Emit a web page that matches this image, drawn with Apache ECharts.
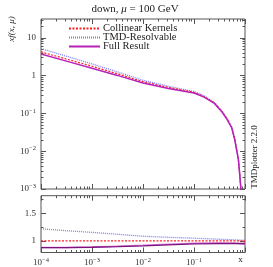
<!DOCTYPE html>
<html><head><meta charset="utf-8">
<script src="https://cdn.jsdelivr.net/npm/echarts@6/dist/echarts.min.js"></script>
<style>html,body{margin:0;padding:0;background:#fff}#c{width:273px;height:267px}</style>
</head><body><div id="c"></div>
<script>
// ---- data ----
const xMain = [1e-4, 3.16e-4, 1e-3, 3.16e-3, 1e-2, 3.16e-2, 0.1, 0.158, 0.251, 0.355, 0.447, 0.55, 0.63, 0.741, 0.794, 0.832, 0.871];
const collinear = [4.27, 2.75, 1.78, 1.12, 0.692, 0.490, 0.363, 0.282, 0.191, 0.112, 0.0708, 0.0427, 0.0209, 0.00631, 0.00224, 0.00100, 0.000316];
const tmdResolvable = [5.20, 3.26, 2.05, 1.26, 0.753, 0.524, 0.381, 0.293, 0.196, 0.115, 0.0723, 0.0435, 0.0212, 0.0064, 0.00226, 0.00101, 0.000318];
const fullResult = [3.75, 2.43, 1.58, 1.016, 0.637, 0.460, 0.347, 0.270, 0.184, 0.109, 0.0686, 0.0412, 0.0200, 0.00603, 0.00213, 0.00095, 0.00030];

const xRatio = [1e-4, 3.16e-4, 1e-3, 3.16e-3, 1e-2, 3.16e-2, 0.1, 0.316, 0.631, 1];
const ratioColl = [1, 1, 1, 1, 1, 1, 1, 1, 1, 1];
const ratioTMD = [1.22, 1.185, 1.155, 1.12, 1.085, 1.065, 1.05, 1.03, 1.02, 1.01];
const ratioFull = [0.88, 0.88, 0.885, 0.895, 0.91, 0.93, 0.945, 0.952, 0.953, 0.953];
const ratioFullAlt = [0.88, 0.882, 0.89, 0.905, 0.92, 0.94, 0.958, 0.968, 0.96, 0.94];

const xMajor = [1e-4, 1e-3, 1e-2, 1e-1, 1];
const xMinor = [];
for (let k = -4; k <= -1; k++) for (let m = 2; m <= 9; m++) xMinor.push(m * Math.pow(10, k));
const yMajor = [1e-3, 1e-2, 1e-1, 1, 10];
const yMinor = [];
for (let k = -3; k <= 1; k++) for (let m = 2; m <= 9; m++) { const v = m * Math.pow(10, k); if (v < 31.6) yMinor.push(v); }
const rMajor = [1, 1.5];
const rMinor = [1.25, 1.75];

const FONT = '"Liberation Serif","DejaVu Serif",serif';
const AX = '#555';

function pw(v) {
  const k = Math.round(Math.log10(v));
  if (k === 0) return '1';
  if (k === 1) return '10';
  return '{a|10}{s|\u2212' + (-k) + '}';
}
const rich = { a: { fontSize: 9, fontFamily: FONT, color: '#333' }, s: { fontSize: 6.5, fontFamily: FONT, color: '#333', verticalAlign: 'top', padding: [0, 0, 5, 0] } };

function xAx(grid, pos, major, labels) {
  return {
    type: 'log', gridIndex: grid, position: pos, min: 1e-4, max: 1, logBase: 10,
    axisLine: { show: false }, splitLine: { show: false },
    axisTick: { show: true, inside: true, length: major ? 5 : 2.5, lineStyle: { color: AX, width: 1 }, customValues: major ? xMajor : xMinor },
    axisLabel: labels ? { show: true, customValues: [1e-4, 1e-3, 1e-2, 1e-1], formatter: pw, rich: rich, margin: 4, fontFamily: FONT, fontSize: 9, color: '#333' } : { show: false }
  };
}
function yLog(grid, pos, major, labels) {
  return {
    type: 'log', gridIndex: grid, position: pos, min: 1e-3, max: 31.62, logBase: 10,
    axisLine: { show: false }, splitLine: { show: false },
    axisTick: { show: true, inside: true, length: major ? 5 : 2.5, lineStyle: { color: AX, width: 1 }, customValues: major ? yMajor : yMinor },
    axisLabel: labels ? { show: true, customValues: yMajor, formatter: pw, rich: rich, margin: 5, fontFamily: FONT, fontSize: 9, color: '#333' } : { show: false }
  };
}
function yLin(grid, pos, major, labels) {
  return {
    type: 'value', gridIndex: grid, position: pos, min: 0.79, max: 1.82,
    axisLine: { show: false }, splitLine: { show: false },
    axisTick: { show: true, inside: true, length: major ? 5 : 2.5, lineStyle: { color: AX, width: 1 }, customValues: major ? rMajor : rMinor },
    axisLabel: labels ? { show: true, customValues: rMajor, formatter: v => String(v), margin: 5, fontFamily: FONT, fontSize: 9, color: '#333' } : { show: false }
  };
}

const pairs = (xs, ys) => xs.map((x, i) => [x, ys[i]]);

const chart = echarts.init(document.getElementById('c'), null, { renderer: 'canvas' });
chart.setOption({
  animation: false,
  backgroundColor: '#fff',
  grid: [
    { left: 41, right: 28, top: 19, height: 170, show: true, borderColor: AX, borderWidth: 1, backgroundColor: 'transparent' },
    { left: 41, right: 28, top: 195.7, height: 58.3, show: true, borderColor: AX, borderWidth: 1, backgroundColor: 'transparent' }
  ],
  xAxis: [
    xAx(0, 'bottom', true, false), xAx(0, 'bottom', false, false), xAx(0, 'top', true, false), xAx(0, 'top', false, false),
    xAx(1, 'bottom', true, true), xAx(1, 'bottom', false, false), xAx(1, 'top', true, false), xAx(1, 'top', false, false)
  ],
  yAxis: [
    yLog(0, 'left', true, true), yLog(0, 'left', false, false), yLog(0, 'right', true, false), yLog(0, 'right', false, false),
    yLin(1, 'left', true, true), yLin(1, 'left', false, false), yLin(1, 'right', true, false), yLin(1, 'right', false, false)
  ],
  legend: {
    orient: 'vertical', left: 63, top: 18, itemWidth: 31, itemHeight: 4, itemGap: -2,
    itemStyle: { opacity: 0 },
    data: ['Collinear Kernels', 'TMD-Resolvable', 'Full Result'],
    textStyle: { fontFamily: FONT, fontSize: 10.5, color: '#222', lineHeight: 9, padding: [0, 0, 0, -2] }
  },
  series: [
    { name: 'TMD-Resolvable', type: 'line', xAxisIndex: 0, yAxisIndex: 0, data: pairs(xMain, tmdResolvable), symbol: 'none', clip: true, lineStyle: { color: '#7b7bff', width: 1.3, type: [1, 1] }, itemStyle: { color: '#7b7bff' }, z: 3 },
    { name: 'Collinear Kernels', type: 'line', xAxisIndex: 0, yAxisIndex: 0, data: pairs(xMain, collinear), symbol: 'none', clip: true, lineStyle: { color: '#ff2020', width: 1.2, type: [2, 1.5] }, itemStyle: { color: '#ff2020' }, z: 4 },
    { name: 'Full Result', type: 'line', xAxisIndex: 0, yAxisIndex: 0, data: pairs(xMain, fullResult), symbol: 'none', clip: true, lineStyle: { color: '#b820b8', width: 1.5 }, itemStyle: { color: '#b820b8' }, z: 5 },
    { name: 'rTMD', type: 'line', xAxisIndex: 4, yAxisIndex: 4, data: pairs(xRatio, ratioTMD), symbol: 'none', clip: true, lineStyle: { color: '#7b7bff', width: 1.3, type: [1, 1] }, z: 3 },
    { name: 'rColl', type: 'line', xAxisIndex: 4, yAxisIndex: 4, data: pairs(xRatio, ratioColl), symbol: 'none', clip: true, lineStyle: { color: '#ff2020', width: 1.2, type: [2, 1.5] }, z: 4 },
    { name: 'rFullAlt', type: 'line', xAxisIndex: 4, yAxisIndex: 4, data: pairs(xRatio, ratioFullAlt), symbol: 'none', clip: true, lineStyle: { color: '#d77ad7', width: 1.5 }, z: 4 },
    { name: 'rFull', type: 'line', xAxisIndex: 4, yAxisIndex: 4, data: pairs(xRatio, ratioFull), symbol: 'none', clip: true, lineStyle: { color: '#7d137d', width: 1.3 }, z: 5 }
  ],
  graphic: [
    { type: 'text', x: 135, y: 9, style: { text: '{r|down, }{i|\u03bc}{r| = 100 GeV}', textAlign: 'center', textVerticalAlign: 'middle', rich: { r: { fontFamily: FONT, fontSize: 11, fill: '#222' }, i: { fontFamily: FONT, fontSize: 11, fontStyle: 'italic', fill: '#222' } } } },
    { type: 'text', x: 12, y: 29, rotation: Math.PI / 2, style: { text: 'xf(x, \u03bc)', fontFamily: FONT, fontStyle: 'italic', fontSize: 9, fill: '#222', textAlign: 'center', textVerticalAlign: 'middle' } },
    { type: 'text', x: 255, y: 157, rotation: Math.PI / 2, style: { text: 'TMDplotter 2.2.0', fontFamily: FONT, fontSize: 9, fill: '#222', textAlign: 'center', textVerticalAlign: 'middle' } },
    { type: 'text', x: 240.5, y: 260, style: { text: 'x', fontFamily: FONT, fontSize: 9, fill: '#222', textAlign: 'center', textVerticalAlign: 'middle' } }
  ]
});
</script></body></html>
